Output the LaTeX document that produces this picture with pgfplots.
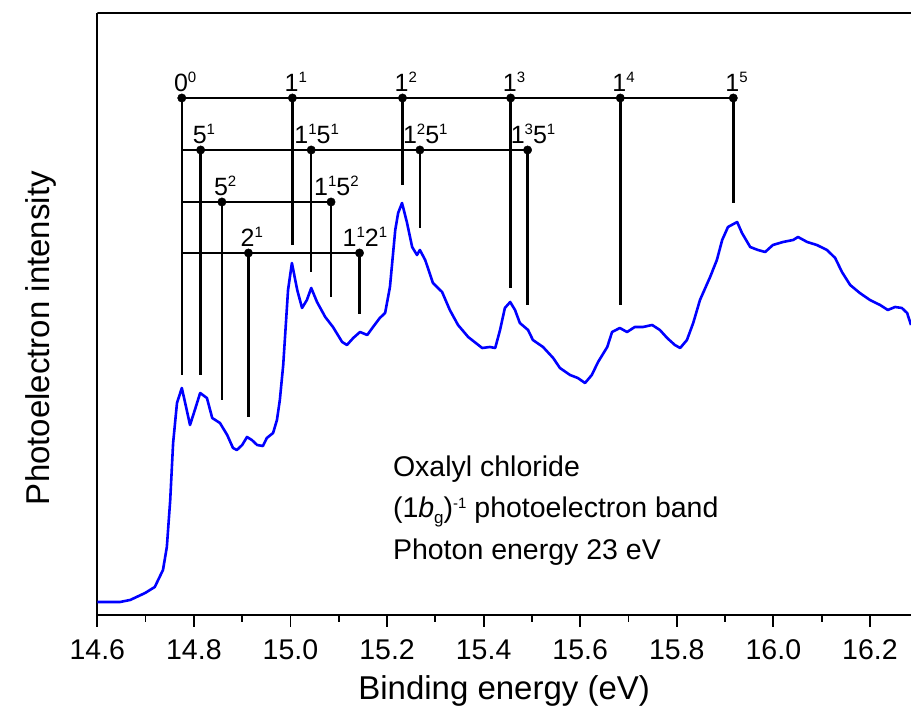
\documentclass[border=0pt]{standalone}
\usepackage{fontspec}
\setmainfont{Liberation Sans}
\usepackage{pgfplots}
\pgfplotsset{compat=1.18}
\newcommand\sups[1]{\raisebox{9pt}{\fontsize{15}{15}\selectfont #1}}
\newcommand\subs[1]{\raisebox{-6pt}{\fontsize{17}{17}\selectfont #1}}
\newcommand\lab[1]{\fontsize{25}{30}\selectfont #1}
\begin{document}
\begin{tikzpicture}
\begin{axis}[
  width=813.7pt, height=602pt, scale only axis,
  xmin=14.6, xmax=16.285, ymin=0, ymax=602,
  axis lines*=left,
  axis line style={-, line width=1.8pt, black},
  xtick={14.6,14.8,15.0,15.2,15.4,15.6,15.8,16.0,16.2},
  minor xtick={14.7,14.9,15.1,15.3,15.5,15.7,15.9,16.1},
  ytick=\empty,
  tick align=outside,
  major tick length=12pt, minor tick length=7pt,
  every tick/.style={black, line width=1.8pt},
  /pgf/number format/assume math mode=true,
  xticklabel style={font=\fontsize{28.5}{34}\selectfont, yshift=-9pt,
    /pgf/number format/fixed, /pgf/number format/fixed zerofill,
    /pgf/number format/precision=1},
  unbounded coords=jump,
]
\coordinate (BL) at (rel axis cs:0,0);
\coordinate (TR) at (rel axis cs:1,1);
\coordinate (XL) at (rel axis cs:0.5,0);
\coordinate (YL) at (rel axis cs:0,0.460);
\draw[line width=1.8pt] (rel axis cs:0,1) -- (rel axis cs:1,1);

% spectrum
\addplot[color={rgb,255:red,0;green,0;blue,255}, line width=2.6pt, line join=round] table {
x y
14.599 13
14.647 13
14.668 15
14.699 22
14.719 28
14.736 45
14.744 68
14.751 115
14.757 172
14.765 212
14.775 227
14.782 212
14.792 190
14.802 205
14.813 222
14.827 217
14.838 197
14.854 192
14.869 180
14.881 167
14.889 165
14.900 170
14.910 178
14.920 175
14.931 170
14.943 169
14.951 177
14.964 182
14.972 195
14.978 215
14.985 250
14.995 325
15.003 352
15.014 325
15.024 307
15.034 315
15.043 327
15.055 313
15.072 298
15.088 288
15.107 273
15.117 270
15.130 277
15.144 283
15.159 280
15.171 288
15.185 297
15.196 302
15.206 328
15.217 385
15.223 402
15.231 412
15.241 393
15.252 368
15.262 360
15.268 365
15.279 355
15.295 332
15.314 323
15.330 305
15.347 290
15.368 278
15.397 267
15.413 268
15.424 267
15.434 285
15.444 307
15.455 313
15.465 305
15.475 292
15.492 285
15.502 275
15.523 268
15.544 257
15.558 247
15.579 240
15.595 237
15.610 232
15.624 240
15.637 253
15.656 268
15.666 283
15.682 287
15.697 283
15.713 288
15.730 288
15.749 290
15.765 285
15.780 277
15.796 270
15.807 267
15.821 275
15.834 292
15.848 315
15.869 338
15.883 355
15.894 375
15.906 388
15.925 393
15.935 382
15.952 368
15.968 365
15.983 363
15.999 370
16.020 373
16.041 375
16.051 378
16.070 373
16.090 370
16.111 365
16.128 357
16.142 343
16.159 330
16.179 322
16.200 315
16.221 310
16.237 305
16.252 308
16.266 307
16.277 302
16.285 290
};

% progression 1^n
\addplot[black, line width=2.5pt] coordinates {
(14.775,517) (15.917,517) (nan,nan)
(14.775,517) (14.775,240) (nan,nan)
(15.004,517) (15.004,370) (nan,nan)
(15.232,517) (15.232,430) (nan,nan)
(15.456,517) (15.456,327) (nan,nan)
(15.683,517) (15.683,310) (nan,nan)
(15.917,517) (15.917,412)
};
\addplot[only marks, mark=*, mark size=4.2pt, mark options={fill=black, draw=black}] coordinates {
(14.775,517) (15.004,517) (15.232,517) (15.456,517) (15.683,517) (15.917,517)};

% 1^n 5^1
\addplot[black, line width=2.5pt] coordinates {
(14.775,465) (15.491,465) (nan,nan)
(14.814,465) (14.814,240) (nan,nan)
(15.043,465) (15.043,343) (nan,nan)
(15.268,465) (15.268,387) (nan,nan)
(15.491,465) (15.491,310)
};
\addplot[only marks, mark=*, mark size=4.2pt, mark options={fill=black, draw=black}] coordinates {
(14.814,465) (15.043,465) (15.268,465) (15.491,465)};

% 5^2
\addplot[black, line width=2.5pt] coordinates {
(14.775,413) (15.084,413) (nan,nan)
(14.858,413) (14.858,215) (nan,nan)
(15.084,413) (15.084,318)
};
\addplot[only marks, mark=*, mark size=4.2pt, mark options={fill=black, draw=black}] coordinates {
(14.858,413) (15.084,413)};

% 2^1
\addplot[black, line width=2.5pt] coordinates {
(14.775,362) (15.143,362) (nan,nan)
(14.913,362) (14.913,198) (nan,nan)
(15.143,362) (15.143,301)
};
\addplot[only marks, mark=*, mark size=4.2pt, mark options={fill=black, draw=black}] coordinates {
(14.913,362) (15.143,362)};

% labels
\tikzset{cl/.style={anchor=base west, inner sep=0pt, xshift=-8pt, yshift=6pt},
         cc/.style={anchor=base west, inner sep=0pt, xshift=-17pt, yshift=6pt}}
\node[cl] at (axis cs:14.775,517) {\lab{0\sups{0}}};
\node[cl] at (axis cs:15.004,517) {\lab{1\sups{1}}};
\node[cl] at (axis cs:15.232,517) {\lab{1\sups{2}}};
\node[cl] at (axis cs:15.456,517) {\lab{1\sups{3}}};
\node[cl] at (axis cs:15.683,517) {\lab{1\sups{4}}};
\node[cl] at (axis cs:15.917,517) {\lab{1\sups{5}}};
\node[cl] at (axis cs:14.814,465) {\lab{5\sups{1}}};
\node[cc] at (axis cs:15.043,465) {\lab{1\sups{1}5\sups{1}}};
\node[cc] at (axis cs:15.268,465) {\lab{1\sups{2}5\sups{1}}};
\node[cc] at (axis cs:15.491,465) {\lab{1\sups{3}5\sups{1}}};
\node[cl] at (axis cs:14.858,413) {\lab{5\sups{2}}};
\node[cc] at (axis cs:15.084,413) {\lab{1\sups{1}5\sups{2}}};
\node[cl] at (axis cs:14.913,362) {\lab{2\sups{1}}};
\node[cc] at (axis cs:15.143,362) {\lab{1\sups{1}2\sups{1}}};

% annotation
\tikzset{an/.style={anchor=base west, inner sep=0pt, font=\fontsize{28.5}{34}\selectfont}}
\node[an] at (axis cs:15.212,138) {Oxalyl chloride};
\node[an] at (axis cs:15.212,97) {(1\textit{b}\subs{g})\sups{-1} photoelectron band};
\node[an] at (axis cs:15.212,55) {Photon energy 23 eV};
\end{axis}
% axis labels
\node[anchor=base, inner sep=0pt, font=\fontsize{33}{39}\selectfont] at ([yshift=-85pt]XL) {Binding energy (eV)};
\node[rotate=90, anchor=base, inner sep=0pt, font=\fontsize{33}{39}\selectfont] at ([xshift=-47.3pt]YL) {Photoelectron intensity};
\pgfresetboundingbox
\path[use as bounding box] ([xshift=-97.3pt,yshift=-107pt]BL) rectangle ([yshift=13pt]TR);
\end{tikzpicture}
\end{document}
